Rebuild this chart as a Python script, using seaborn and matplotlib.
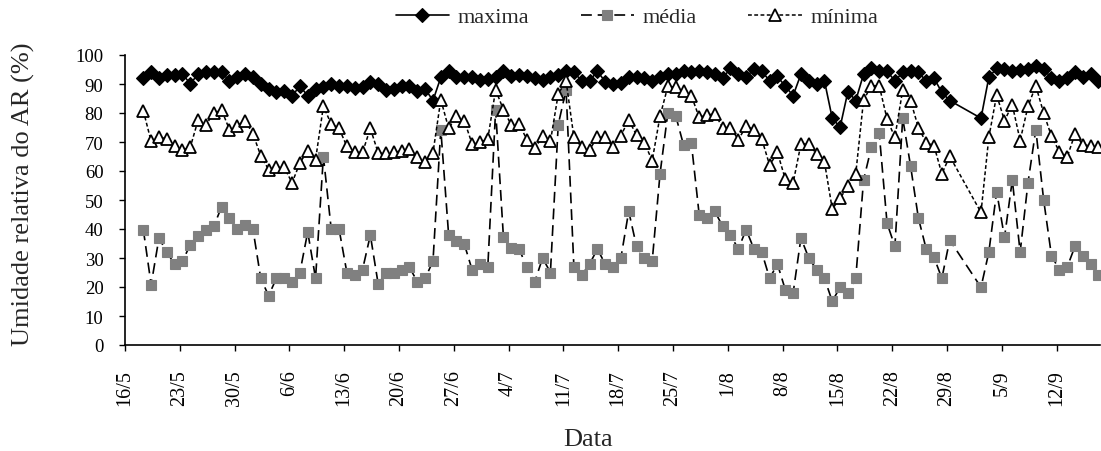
import matplotlib
matplotlib.use("Agg")
import matplotlib.pyplot as plt
import numpy as np
import pandas as pd
import seaborn as sns

# ---- data (day index counted from 16/5) ----
dias = list(range(2, 106)) + list(range(109, 125))

maxima = [92.0, 94.0, 92.0, 93.1, 93.1, 93.4, 90.1, 93.4, 94.0, 94.3, 94.3, 90.9, 92.5, 93.4, 92.3, 90.0,
          88.3, 87.4, 87.7, 86.0, 89.2, 86.0, 88.3, 88.9, 90.0, 89.2, 89.4, 88.5, 88.9, 90.6, 90.0, 88.0,
          88.3, 89.4, 89.4, 87.7, 88.3, 84.3, 92.3, 94.4, 92.3, 92.3, 92.3, 91.5, 91.7, 92.3, 94.4, 92.9,
          93.1, 92.9, 92.0, 91.5, 92.3, 93.1, 94.4, 94.0, 91.1, 91.1, 94.4, 90.8, 90.0, 90.2, 92.3, 92.3,
          92.0, 91.1, 92.3, 93.4, 93.4, 94.4, 94.0, 94.4, 94.0, 93.4, 92.0, 95.4, 93.4, 92.3, 95.2, 94.4,
          91.1, 92.6, 89.2, 86.0, 93.4, 91.1, 90.0, 91.1, 78.2, 75.1, 87.4, 84.3, 93.4, 95.4, 94.4, 94.4,
          91.1, 94.0, 94.4, 94.0, 91.1, 92.0, 87.1, 84.3,
          78.2, 92.3, 95.4, 95.2, 94.4, 94.9, 95.2, 96.3, 95.2, 92.0, 91.1, 92.0, 94.3, 92.3, 93.4, 91.1]

media = [39.8, 20.8, 36.9, 32.0, 27.9, 28.9, 34.6, 37.7, 39.8, 40.9, 47.7, 43.8, 40.0, 41.5, 40.0, 23.0,
         17.0, 23.0, 23.0, 21.6, 25.0, 39.0, 23.0, 65.0, 40.0, 40.0, 25.0, 24.1, 26.0, 37.9, 21.0, 24.8,
         24.8, 26.0, 26.8, 21.8, 23.0, 28.9, 74.3, 37.9, 36.0, 34.8, 25.9, 27.9, 26.8, 81.1, 37.1, 33.3,
         33.1, 26.8, 21.8, 30.0, 25.0, 76.0, 88.0, 26.8, 24.1, 27.9, 33.1, 27.9, 26.8, 30.0, 46.1, 34.0,
         30.0, 28.9, 59.0, 80.0, 79.1, 69.0, 69.7, 45.0, 43.8, 46.1, 40.9, 37.9, 33.1, 39.8, 33.1, 32.0,
         23.0, 27.9, 19.1, 17.9, 36.9, 30.0, 26.0, 23.0, 15.1, 19.9, 17.9, 23.0, 56.9, 68.2, 73.0, 42.0,
         34.0, 78.2, 61.8, 43.8, 33.1, 30.2, 23.0, 36.2,
         19.9, 32.0, 52.9, 37.1, 56.9, 32.0, 55.9, 74.3, 50.1, 30.8, 26.0, 26.8, 34.0, 30.8, 27.9, 24.1]

minima = [80.8, 70.2, 71.8, 71.0, 68.5, 67.2, 68.2, 77.6, 75.9, 80.0, 81.0, 74.3, 75.6, 77.4, 72.8, 65.3,
          60.5, 61.3, 61.3, 55.9, 62.8, 67.0, 63.9, 82.3, 76.2, 74.7, 68.5, 66.4, 66.4, 74.7, 66.2, 66.2,
          66.4, 67.0, 67.6, 64.7, 63.0, 66.3, 84.6, 74.7, 78.9, 77.4, 69.3, 69.9, 71.0, 88.0, 81.1, 75.9,
          76.2, 70.8, 67.8, 72.0, 70.2, 86.6, 91.1, 71.6, 68.2, 67.4, 71.6, 71.6, 68.2, 72.2, 77.6, 72.4,
          69.7, 63.6, 78.9, 89.2, 88.9, 87.7, 86.0, 78.5, 79.3, 79.7, 75.0, 75.0, 70.8, 75.4, 74.3, 71.0,
          62.0, 66.4, 57.2, 55.9, 69.3, 69.3, 65.9, 63.2, 46.9, 50.6, 54.7, 59.0, 84.5, 89.4, 89.4, 77.9,
          71.6, 88.0, 84.3, 75.0, 69.8, 68.7, 59.0, 65.1,
          45.7, 71.6, 86.2, 77.4, 82.8, 70.5, 82.3, 89.4, 80.0, 72.0, 66.7, 64.7, 72.8, 69.0, 68.7, 68.2]

tick_labels = ["16/5", "23/5", "30/5", "6/6", "13/6", "20/6", "27/6", "4/7", "11/7",
               "18/7", "25/7", "1/8", "8/8", "15/8", "22/8", "29/8", "5/9", "12/9"]

df = pd.DataFrame({"dia": dias, "maxima": maxima, "média": media, "mínima": minima})

sns.set_style("ticks")
plt.rcParams["font.family"] = ["Liberation Serif", "DejaVu Serif"]

fig = plt.figure(figsize=(11.01, 4.52), dpi=100)
ax = fig.add_axes([125 / 1101, 106 / 452, 975 / 1101, 290 / 452])

sns.lineplot(data=df, x="dia", y="maxima", ax=ax, color="black", lw=1.2,
             marker="D", markersize=7, markerfacecolor="black", mec="black", mew=0.8,
             label="maxima", zorder=3)
sns.lineplot(data=df, x="dia", y="média", ax=ax, color="black", lw=1.2,
             marker="s", markersize=7.5, markerfacecolor="#808080", mec="#808080", mew=0.8,
             label="média", zorder=4)
sns.lineplot(data=df, x="dia", y="mínima", ax=ax, color="black", lw=1.1,
             marker="^", markersize=8, markerfacecolor="white", mec="black", mew=1.3,
             label="mínima", zorder=5)

lines = ax.get_lines()
lines[1].set_dashes([6.5, 3.5])
lines[2].set_dashes([2.5, 1.6])

ax.set_ylim(0, 100)
ax.set_yticks(np.arange(0, 101, 10))
ax.set_xlim(-0.34, 124.2)
ax.set_xticks([7 * k - 0.34 for k in range(len(tick_labels))])
ax.set_xticklabels(tick_labels, rotation=90)
ax.tick_params(axis="x", direction="out", length=4.5, width=1, pad=13, labelsize=14.5, colors="black")
ax.tick_params(axis="y", direction="out", length=4.5, width=1, pad=11, labelsize=13.5, colors="black")
for s in ["top", "right"]:
    ax.spines[s].set_visible(False)
for s in ["left", "bottom"]:
    ax.spines[s].set_color("black")
    ax.spines[s].set_linewidth(1.2)

ax.set_xlabel("")
ax.set_ylabel("")
fig.text(23 / 1101, 1 - 194 / 452, "Umidade relativa do AR (%)", rotation=90,
         ha="center", va="center", fontsize=19)
fig.text(588 / 1101, 1 - 446 / 452, "Data", ha="center", va="baseline", fontsize=19)

ax.legend(loc="center", bbox_to_anchor=(637 / 1101, 1 - 18 / 452), bbox_transform=fig.transFigure,
          ncol=3, frameon=False, fontsize=16, handlelength=2.4, columnspacing=2.3,
          handletextpad=0.4)

fig.savefig("out.png", dpi=100)
